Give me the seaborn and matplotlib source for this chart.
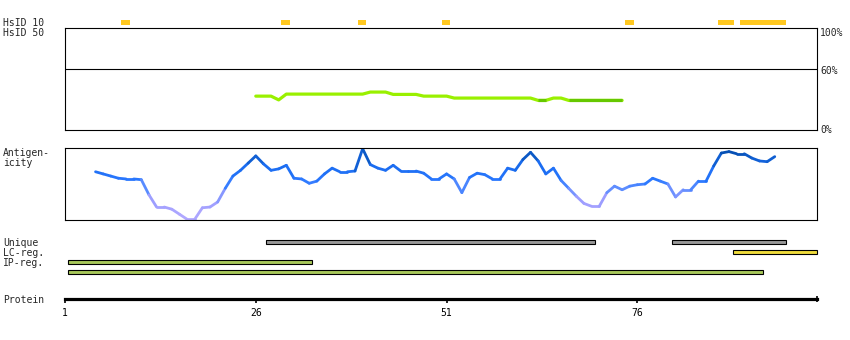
import numpy as np
import matplotlib
matplotlib.use("Agg")
import matplotlib.pyplot as plt
from matplotlib.collections import LineCollection
from matplotlib.colors import LinearSegmentedColormap, Normalize
import seaborn as sns

# ---------------- data ----------------
protein_ticks = [1, 26, 51, 76]
protein_tick_labels = ["1", "26", "51", "76"]
protein_end = 99.6

hsid10_start = [8.3, 29.3, 39.4, 50.4, 74.4, 86.5, 89.5]
hsid10_end = [9.5, 30.5, 40.5, 51.5, 75.6, 88.6, 95.5]

identity_residues = list(range(26, 75))
identity_values = ([33.3, 33.3, 33.3, 29.6] + [35.3] * 11 + [37.3] * 3 + [35.0] * 4
                   + [33.3] * 4 + [31.4] * 11 + [29.1] * 2 + [31.4] * 2 + [29.1] * 8)
identity_levels = [0, 60, 100]
identity_level_labels = ["0%", "60%", "100%"]

antigen_residues = list(range(5, 95))
antigen_values = [67, 64, 61, 58, 57, 57, 56, 35, 18, 18,
                  15, 8, 1, 1, 17, 18, 25, 44, 61, 69,
                  79, 89, 78, 69, 71, 76, 58, 57, 51, 54,
                  64, 72, 67, 67, 68, 99, 77, 72, 69, 76,
                  68, 68, 68, 65, 57, 57, 64, 57, 38, 59,
                  65, 63, 57, 57, 72, 69, 84, 94, 82, 64,
                  72, 55, 44, 33, 23, 19, 19, 38, 47, 42,
                  47, 49, 50, 58, 54, 50, 32, 42, 42, 54,
                  54, 75, 93, 95, 92, 92, 86, 82, 81, 88]

track_labels = ["Unique", "LC-reg.", "IP-reg."]
unique_start = [27.35, 80.5]
unique_end = [70.5, 95.5]
lc_start = [88.5]
lc_end = [99.6]
ip_start = [1.4]
ip_end = [33.4]
region_start = [1.4]
region_end = [92.5]

# ---------------- style ----------------
sns.set_style("white")
plt.rcParams['font.family'] = ['DejaVu Sans Mono', 'DejaVu Sans']
FS = 7

W, H = 850, 340
fig = plt.figure(figsize=(W / 100, H / 100), dpi=100)
fig.patch.set_facecolor("white")


def px_axes(x0, y0, x1, y1, **kw):
    return fig.add_axes([x0 / W, 1 - y1 / H, (x1 - x0) / W, (y1 - y0) / H], **kw)


def fy(ypx):
    return 1 - ypx / H


LW1 = 0.8

# ---- HsID track ----
ax_h = px_axes(65, 17.5, 817.5, 27.5)
ax_h.set_xlim(1, protein_end)
ax_h.set_ylim(0.5, -0.5)
ax_h.barh([0] * len(hsid10_start), np.array(hsid10_end) - np.array(hsid10_start),
          left=hsid10_start, height=0.47, color="#ffc820", linewidth=0)
ax_h.axis("off")
ax_h.patch.set_alpha(0)

# ---- identity box ----
ax_i = px_axes(65, 28.3, 817.5, 130)
ax_i.set_xlim(1, protein_end)
ax_i.set_ylim(0, 100)
ax_i.axhline(identity_levels[1], color="black", lw=LW1)
idv = np.array(identity_values)
idr = np.array(identity_residues)
sns.lineplot(x=idr, y=idv, ax=ax_i, color="#99f000", lw=2.3, estimator=None)
dark = np.where(idv < 30, idv, np.nan)
ax_i.plot(idr, dark, color="#66c800", lw=2.3, solid_capstyle="butt")
ax_i.set_xticks([])
ax_i.set_yticks([])
ax_i.set_xlabel("")
ax_i.set_ylabel("")
for s in ax_i.spines.values():
    s.set_color("black")
    s.set_linewidth(LW1)
    s.set_visible(True)
for lvl, lab, base in zip(identity_levels, identity_level_labels, [133.3, 74, 36]):
    fig.text(820 / W, fy(base), lab, fontsize=FS, va="baseline", ha="left")

# ---- antigenicity box ----
ax_a = px_axes(65, 148, 817.5, 220)
ax_a.set_xlim(1, protein_end)
ax_a.set_ylim(0, 100)
ar = np.array(antigen_residues, dtype=float)
av = np.array(antigen_values, dtype=float)
pts = np.column_stack([ar, av])
segs = np.stack([pts[:-1], pts[1:]], axis=1)
cmap = LinearSegmentedColormap.from_list(
    "ag", [(0.0, "#b4aaff"), (0.30, "#9a9cff"), (0.45, "#5a8cff"),
           (0.55, "#2a78ff"), (0.75, "#1a6cf0"), (0.88, "#0c5ac8"), (1.0, "#0046a0")])
segv = (av[:-1] + av[1:]) / 2
lc = LineCollection(segs, colors=cmap(Normalize(0, 100)(segv)), linewidths=2.0,
                    capstyle="round", joinstyle="round")
ax_a.add_collection(lc)
ax_a.set_xticks([])
ax_a.set_yticks([])
for s in ax_a.spines.values():
    s.set_color("black")
    s.set_linewidth(LW1)
    s.set_visible(True)

# ---- feature tracks ----
ax_t = px_axes(65, 237.3, 817.5, 277.3)
ax_t.set_xlim(1, protein_end)
ax_t.set_ylim(3.5, -0.5)
rows = [(unique_start, unique_end, "#999999"),
        (lc_start, lc_end, "#f0dc3c"),
        (ip_start, ip_end, "#a8c85a"),
        (region_start, region_end, "#a8c85a")]
for i, (st, en, col) in enumerate(rows):
    bars = ax_t.barh([i] * len(st), np.array(en) - np.array(st), left=st, height=0.42,
                     color=col, edgecolor="black", linewidth=LW1)
    for b in bars:
        b.set_clip_on(False)
ax_t.axis("off")
ax_t.patch.set_alpha(0)

# ---- protein axis ----
ax_p = px_axes(65, 285, 817.5, 299.3)
ax_p.set_xlim(1, protein_end)
ax_p.set_ylim(0, 1)
for k in ["top", "left", "right"]:
    ax_p.spines[k].set_visible(False)
ax_p.spines["bottom"].set_linewidth(2.3)
ax_p.spines["bottom"].set_color("black")
ax_p.set_yticks([])
ax_p.set_xticks(protein_ticks)
ax_p.set_xticklabels(protein_tick_labels, fontsize=FS)
ax_p.set_xticks([protein_end], minor=True)
ax_p.tick_params(axis="x", which="major", direction="out", length=2.7, width=1.2,
                 pad=3.5, colors="black", bottom=True)
ax_p.tick_params(axis="x", which="minor", direction="inout", length=4.0, width=1.2,
                 colors="black", bottom=True)
ax_p.patch.set_alpha(0)

# ---- left labels ----
left_labels = [("HsID 10", 26), ("HsID 50", 36), ("Antigen-", 155.7), ("icity", 166),
               (track_labels[0], 246), (track_labels[1], 256), (track_labels[2], 266),
               ("Protein", 302.7)]
for txt, base in left_labels:
    fig.text(3 / W, fy(base), txt, fontsize=FS, va="baseline", ha="left")

fig.savefig("out.png", dpi=100, facecolor="white")
